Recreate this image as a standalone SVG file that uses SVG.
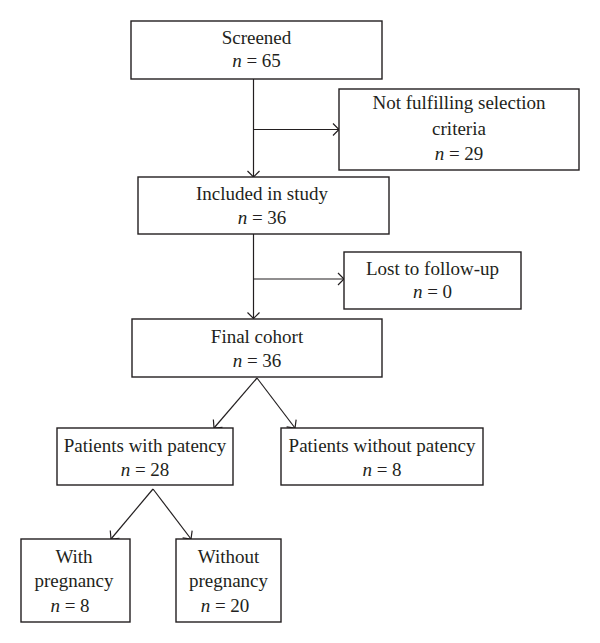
<svg xmlns="http://www.w3.org/2000/svg" width="600" height="643" viewBox="0 0 600 643">
<defs>
<marker id="arr" markerUnits="userSpaceOnUse" markerWidth="14" markerHeight="14" viewBox="-8 -7 10 14" refX="0" refY="0" orient="auto">
<path d="M-6,-6 L0,0 L-6,6" fill="none" stroke="#231f20" stroke-width="1.2"/>
</marker>
</defs>
<style>
.box{fill:#fff;stroke:#231f20;stroke-width:1.4}
.t{font-family:"Liberation Serif","Times New Roman",serif;font-size:19px;fill:#231f20;text-anchor:middle}
.i{font-style:italic}
.c{fill:none;stroke:#231f20;stroke-width:1.2}
</style>
<rect width="600" height="643" fill="#fff"/>
<g id="connectors">
<line class="c" x1="253.5" y1="79" x2="253.5" y2="177" marker-end="url(#arr)"/>
<line class="c" x1="253.5" y1="129.5" x2="339" y2="129.5" marker-end="url(#arr)"/>
<line class="c" x1="253.5" y1="234" x2="253.5" y2="318.5" marker-end="url(#arr)"/>
<line class="c" x1="253.5" y1="279" x2="344" y2="279" marker-end="url(#arr)"/>
<line class="c" x1="257" y1="378" x2="214" y2="428" marker-end="url(#arr)"/>
<line class="c" x1="257" y1="378" x2="295" y2="428" marker-end="url(#arr)"/>
<line class="c" x1="153" y1="489" x2="111" y2="539" marker-end="url(#arr)"/>
<line class="c" x1="153" y1="489" x2="191" y2="539" marker-end="url(#arr)"/>
</g>
<g id="screened">
<rect class="box" x="131" y="21" width="251" height="58"/>
<text class="t" x="256.5" y="44">Screened</text>
<text class="t" x="256.5" y="67"><tspan class="i">n</tspan> = 65</text>
</g>
<g id="not-fulfilling">
<rect class="box" x="339" y="89" width="240" height="81"/>
<text class="t" x="459" y="109">Not fulfilling selection</text>
<text class="t" x="459" y="135">criteria</text>
<text class="t" x="459" y="160"><tspan class="i">n</tspan> = 29</text>
</g>
<g id="included">
<rect class="box" x="138" y="177" width="251" height="57"/>
<text class="t" x="262" y="200">Included in study</text>
<text class="t" x="262" y="224"><tspan class="i">n</tspan> = 36</text>
</g>
<g id="lost">
<rect class="box" x="344" y="252" width="177" height="57"/>
<text class="t" x="432.5" y="275">Lost to follow-up</text>
<text class="t" x="432.5" y="298"><tspan class="i">n</tspan> = 0</text>
</g>
<g id="final">
<rect class="box" x="132" y="319" width="250" height="58"/>
<text class="t" x="257" y="343">Final cohort</text>
<text class="t" x="257" y="367"><tspan class="i">n</tspan> = 36</text>
</g>
<g id="with-patency">
<rect class="box" x="57" y="428" width="176" height="57"/>
<text class="t" x="145" y="452">Patients with patency</text>
<text class="t" x="145" y="476"><tspan class="i">n</tspan> = 28</text>
</g>
<g id="without-patency">
<rect class="box" x="281" y="428" width="202" height="57"/>
<text class="t" x="382" y="452">Patients without patency</text>
<text class="t" x="382" y="476"><tspan class="i">n</tspan> = 8</text>
</g>
<g id="with-pregnancy">
<rect class="box" x="21" y="539" width="109" height="83"/>
<text class="t" x="74" y="563">With</text>
<text class="t" x="74" y="587">pregnancy</text>
<text class="t" x="70" y="612"><tspan class="i">n</tspan> = 8</text>
</g>
<g id="without-pregnancy">
<rect class="box" x="176" y="539" width="105" height="83"/>
<text class="t" x="228.5" y="563">Without</text>
<text class="t" x="228.5" y="587">pregnancy</text>
<text class="t" x="225" y="612"><tspan class="i">n</tspan> = 20</text>
</g>
</svg>
